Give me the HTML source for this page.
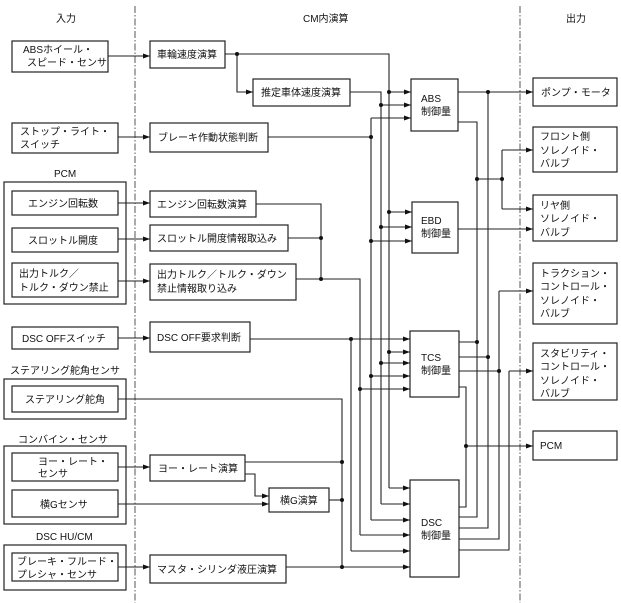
<!DOCTYPE html>
<html><head><meta charset="utf-8"><style>
html,body{margin:0;padding:0;background:#fff;}
svg{display:block;}
text{font-family:"Liberation Sans","Noto Sans CJK JP",sans-serif;font-size:10px;fill:#111;}
.b{fill:#fff;stroke:#222;stroke-width:1.2;}
.l{fill:none;stroke:#222;stroke-width:1.1;}
.g{fill:none;stroke:#555;stroke-width:1.3;}
</style></head><body>
<svg width="621" height="603" viewBox="0 0 621 603" xmlns="http://www.w3.org/2000/svg">
<defs><marker id="a" markerWidth="8" markerHeight="6" refX="7" refY="3" orient="auto" markerUnits="userSpaceOnUse"><path d="M0,0.5 L7,3 L0,5.5z" fill="#111"/></marker></defs>
<line x1="135" y1="6" x2="135" y2="603" stroke="#555" stroke-dasharray="7,2,1.5,2"/>
<line x1="520" y1="6" x2="520" y2="603" stroke="#555" stroke-dasharray="7,2,1.5,2"/>
<text x="56" y="22">入力</text><text x="303" y="22">CM内演算</text><text x="566" y="22">出力</text>

<!-- left inputs -->
<rect class="b" x="12" y="41" width="96" height="31"/><text x="23" y="53">ABSホイール・</text><text x="27" y="66">スピード・センサ</text>
<rect class="b" x="12" y="123" width="106" height="30"/><text x="20" y="135">ストップ・ライト・</text><text x="20" y="148">スイッチ</text>
<text x="54" y="177">PCM</text>
<rect class="b" x="4" y="182" width="122" height="122"/>
<rect class="b" x="12" y="191" width="106" height="24"/><text x="28" y="207">エンジン回転数</text>
<rect class="b" x="12" y="228" width="106" height="24"/><text x="28" y="244">スロットル開度</text>
<rect class="b" x="12" y="263" width="106" height="34"/><text x="19" y="277">出力トルク／</text><text x="19" y="291">トルク・ダウン禁止</text>
<rect class="b" x="12" y="327" width="106" height="22"/><text x="22" y="342">DSC OFFスイッチ</text>
<text x="10" y="374">ステアリング舵角センサ</text>
<rect class="b" x="4" y="379" width="122" height="40"/>
<rect class="b" x="12" y="386" width="106" height="26"/><text x="25" y="403">ステアリング舵角</text>
<text x="18" y="443">コンバイン・センサ</text>
<rect class="b" x="4" y="446" width="122" height="78"/>
<rect class="b" x="12" y="453" width="106" height="28"/><text x="38" y="465">ヨー・レート・</text><text x="38" y="477">センサ</text>
<rect class="b" x="12" y="490" width="106" height="27"/><text x="40" y="508">横Gセンサ</text>
<text x="36" y="540">DSC HU/CM</text>
<rect class="b" x="4" y="545" width="122" height="45"/>
<rect class="b" x="12" y="553" width="106" height="28"/><text x="17" y="565">ブレーキ・フルード・</text><text x="17" y="578">プレシャ・センサ</text>

<!-- middle boxes -->
<rect class="b" x="150" y="41" width="75" height="27"/><text x="157" y="58">車輪速度演算</text>
<rect class="b" x="253" y="79" width="97" height="27"/><text x="261" y="96">推定車体速度演算</text>
<rect class="b" x="150" y="123" width="118" height="29"/><text x="158" y="141">ブレーキ作動状態判断</text>
<rect class="b" x="150" y="191" width="106" height="26"/><text x="157" y="208">エンジン回転数演算</text>
<rect class="b" x="150" y="225" width="138" height="26"/><text x="157" y="242">スロットル開度情報取込み</text>
<rect class="b" x="150" y="264" width="146" height="36"/><text x="157" y="278">出力トルク／トルク・ダウン</text><text x="157" y="292">禁止情報取り込み</text>
<rect class="b" x="150" y="322" width="100" height="30"/><text x="157" y="341">DSC OFF要求判断</text>
<rect class="b" x="150" y="455" width="95" height="26"/><text x="158" y="472">ヨー・レート演算</text>
<rect class="b" x="269" y="488" width="60" height="24"/><text x="280" y="504">横G演算</text>
<rect class="b" x="150" y="555" width="136" height="28"/><text x="157" y="573">マスタ・シリンダ液圧演算</text>

<!-- control boxes -->
<rect class="b" x="411" y="79" width="47" height="52"/><text x="421" y="102">ABS</text><text x="421" y="115">制御量</text>
<rect class="b" x="412" y="202" width="46" height="51"/><text x="421" y="224">EBD</text><text x="421" y="237">制御量</text>
<rect class="b" x="410" y="331" width="49" height="66"/><text x="421" y="361">TCS</text><text x="421" y="374">制御量</text>
<rect class="b" x="410" y="480" width="49" height="97"/><text x="421" y="526">DSC</text><text x="421" y="539">制御量</text>

<!-- outputs -->
<rect class="b" x="533" y="78" width="84" height="28"/><text x="541" y="96">ポンプ・モータ</text>
<rect class="b" x="533" y="127" width="84" height="45"/><text x="540" y="140">フロント側</text><text x="540" y="154">ソレノイド・</text><text x="540" y="167">バルブ</text>
<rect class="b" x="533" y="195" width="84" height="46"/><text x="540" y="209">リヤ側</text><text x="540" y="222">ソレノイド・</text><text x="540" y="236">バルブ</text>
<rect class="b" x="533" y="263" width="84" height="61"/><text x="540" y="277">トラクション・</text><text x="540" y="290">コントロール・</text><text x="540" y="304">ソレノイド・</text><text x="540" y="317">バルブ</text>
<rect class="b" x="533" y="343" width="84" height="57"/><text x="540" y="357">スタビリティ・</text><text x="540" y="370">コントロール・</text><text x="540" y="384">ソレノイド・</text><text x="540" y="397">バルブ</text>
<rect class="b" x="533" y="431" width="84" height="29"/><text x="540" y="449">PCM</text>

<!-- input arrows -->
<g class="l" marker-end="url(#a)">
<path d="M108,56H150"/><path d="M118,137H150"/><path d="M118,203H150"/><path d="M118,239H150"/>
<path d="M118,281H150"/><path d="M118,338H150"/><path d="M118,467H150"/><path d="M118,567H150"/>
<path d="M118,504H269"/><path d="M245,474H255V496H269"/>
<path d="M237,54V92H253"/>
</g>
<!-- buses -->
<g class="l">
<path d="M225,54H389V488"/><path d="M350,92H381V504"/><path d="M268,137H371"/><path d="M371,118V520"/>
<path d="M256,204H321V279"/><path d="M288,238H321"/><path d="M296,279H360V535"/>
<path d="M250,339H410"/><path d="M351,339V551"/>
<path d="M118,399H342V567"/><path d="M245,462H342"/><path d="M329,500H342"/><path d="M286,567H342"/>
</g>
<g class="l" marker-end="url(#a)">
<path d="M389,92H411"/><path d="M381,105H411"/><path d="M371,118H411"/>
<path d="M389,212H412"/><path d="M381,227H412"/><path d="M371,241H412"/>
<path d="M351,339H410"/><path d="M389,352H410"/><path d="M381,363H410"/><path d="M371,376H410"/><path d="M360,389H410"/>
<path d="M389,488H410"/><path d="M381,504H410"/><path d="M371,520H410"/><path d="M360,535H410"/><path d="M351,551H410"/><path d="M342,567H410"/>
<path d="M458,92H533"/><path d="M502,150H533"/><path d="M502,209H533"/><path d="M458,229H533"/>
<path d="M499,291H533"/><path d="M509,371H533"/><path d="M466,446H533"/>
</g>
<g class="l">
<path d="M458,122H477V517H459"/><path d="M477,179H502"/><path d="M502,150V209"/>
<path d="M488,92V528H459"/><path d="M459,342H477"/><path d="M459,357H488"/><path d="M459,371H499"/>
<path d="M499,291V539H459"/><path d="M509,371V550H459"/><path d="M459,387H466V507H459"/>
</g>
<g fill="#111">
<circle cx="237" cy="54" r="2"/><circle cx="389" cy="92" r="2"/><circle cx="381" cy="105" r="2"/><circle cx="371" cy="137" r="2"/>
<circle cx="389" cy="212" r="2"/><circle cx="381" cy="227" r="2"/><circle cx="371" cy="241" r="2"/>
<circle cx="321" cy="238" r="2"/><circle cx="321" cy="279" r="2"/>
<circle cx="351" cy="339" r="2"/><circle cx="389" cy="352" r="2"/><circle cx="381" cy="363" r="2"/><circle cx="371" cy="376" r="2"/><circle cx="360" cy="389" r="2"/>
<circle cx="342" cy="462" r="2"/><circle cx="342" cy="500" r="2"/><circle cx="342" cy="567" r="2"/>
<circle cx="488" cy="92" r="2"/><circle cx="477" cy="179" r="2"/><circle cx="502" cy="179" r="2"/>
<circle cx="477" cy="342" r="2"/><circle cx="488" cy="357" r="2"/><circle cx="499" cy="371" r="2"/><circle cx="466" cy="446" r="2"/>
</g>
</svg>
</body></html>
